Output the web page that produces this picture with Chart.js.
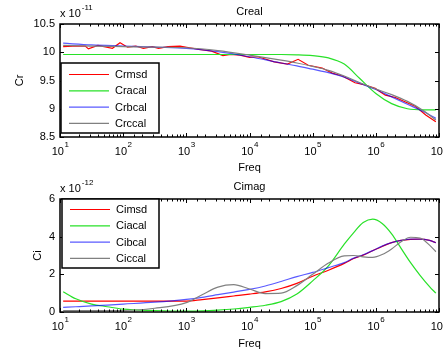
<!DOCTYPE html>
<html lang="en">
<head>
<meta charset="UTF-8">
<title>Creal / Cimag</title>
<script src="https://cdn.jsdelivr.net/npm/chart.js@4.4.1/dist/chart.umd.min.js"></script>
<style>
  body { margin: 0; background: #fff; }
  canvas { position: absolute; left: 0; }
</style>
</head>
<body>
<canvas id="real" width="443" height="175" style="top:0"></canvas>
<canvas id="imag" width="443" height="176" style="top:175px"></canvas>
<script>
// frequencies are stored as powers of ten (Freq = 10^exp)
const realExpRed = [1.05,1.2,1.4,1.45,1.6,1.83,1.95,2.07,2.2,2.32,2.46,2.56,2.71,2.9,3.05,3.2,3.4,3.58,3.7,3.85,
                    4.0,4.13,4.25,4.39,4.6,4.77,4.93,5.15,5.31,5.47,5.67,5.83,5.99,6.15,6.31,6.47,6.63,6.79,6.95];
const realRed = [10.10,10.11,10.11,10.06,10.12,10.07,10.17,10.09,10.11,10.07,10.10,10.07,10.10,10.11,10.08,10.05,10.02,9.94,9.96,9.95,
                 9.91,9.92,9.88,9.83,9.79,9.875,9.77,9.72,9.63,9.58,9.46,9.42,9.36,9.24,9.20,9.12,9.04,8.89,8.77];

const realExp = [1.05,1.5,2,2.5,3,3.5,4,4.5,4.75,5,5.25,5.5,5.75,6,6.25,6.5,6.75,6.95];
const realGreen = [9.96,9.96,9.96,9.96,9.96,9.96,9.96,9.96,9.955,9.94,9.90,9.79,9.53,9.27,9.09,9.00,8.98,8.98];
const realBlue = [10.16,10.13,10.11,10.09,10.07,10.01,9.92,9.81,9.76,9.70,9.64,9.56,9.45,9.34,9.21,9.08,8.95,8.83];
const realGray = [10.12,10.11,10.10,10.09,10.08,10.03,9.95,9.86,9.81,9.75,9.68,9.58,9.46,9.35,9.25,9.13,8.97,8.80];

const imagExp = [1.05,1.25,1.5,1.75,2,2.5,3,3.25,3.5,3.75,4,4.25,4.5,4.75,5,5.25,5.5,5.65,5.8,5.95,6.1,6.25,6.4,6.55,6.7,6.85,6.95];
const imagRed = [0.58,0.58,0.58,0.58,0.58,0.58,0.58,0.66,0.75,0.85,0.95,1.07,1.25,1.52,1.9,2.22,2.58,2.84,3.02,3.25,3.48,3.68,3.80,3.86,3.87,3.80,3.68];
const imagGreen = [1.08,0.7,0.42,0.28,0.15,0.08,0.05,0.06,0.1,0.16,0.25,0.36,0.55,0.95,1.65,2.45,3.6,4.22,4.75,4.93,4.7,4.15,3.38,2.62,1.95,1.35,1.0];
const imagBlue = [0.25,0.28,0.32,0.37,0.42,0.52,0.67,0.78,0.92,1.06,1.2,1.38,1.62,1.88,2.1,2.36,2.62,2.86,3.04,3.26,3.5,3.68,3.8,3.87,3.87,3.8,3.68];
const imagGray = [0.08,0.08,0.08,0.08,0.08,0.2,0.5,0.92,1.32,1.45,1.22,0.98,1.0,1.4,2.0,2.6,2.98,3.0,2.93,2.9,3.05,3.35,3.73,3.97,3.93,3.55,3.2];

const realLabels = ['Crmsd', 'Cracal', 'Crbcal', 'Crccal'];
const imagLabels = ['Cimsd', 'Ciacal', 'Cibcal', 'Ciccal'];

const FONT = "'Liberation Sans', Arial, Helvetica, sans-serif";
const colors = ['#ff0000', 'rgb(40,225,40)', 'rgba(0,0,255,0.65)', 'rgb(128,128,128)'];

function pts(exps, vals) {
    return exps.map((e, i) => ({ x: Math.pow(10, e), y: vals[i] }));
}

function isDecade(v) {
    const l = Math.log10(v);
    return Math.abs(l - Math.round(l)) < 1e-9;
}

// MATLAB-like box, inward ticks, 10^n labels, exponent note and legend
const matlabAxes = {
    id: 'matlabAxes',
    afterDraw(chart, args, opts) {
        const { ctx, chartArea: a, scales: { x, y } } = chart;
        ctx.save();
        ctx.strokeStyle = '#000';
        ctx.lineWidth = 1;
        ctx.beginPath();
        x.ticks.forEach(t => {
            const px = Math.round(x.getPixelForValue(t.value)) + 0.5;
            const len = isDecade(t.value) ? 4 : 2.5;
            ctx.moveTo(px, a.bottom); ctx.lineTo(px, a.bottom - len);
            ctx.moveTo(px, a.top); ctx.lineTo(px, a.top + len);
        });
        y.ticks.forEach(t => {
            const py = Math.round(y.getPixelForValue(t.value)) + 0.5;
            ctx.moveTo(a.left, py); ctx.lineTo(a.left + 4, py);
            ctx.moveTo(a.right, py); ctx.lineTo(a.right - 4, py);
        });
        ctx.stroke();

        ctx.lineWidth = 1.5;
        ctx.strokeRect(a.left, a.top, a.right - a.left, a.bottom - a.top);

        // x tick labels 10^n
        ctx.fillStyle = '#000';
        ctx.textBaseline = 'middle';
        ctx.textAlign = 'left';
        x.ticks.forEach(t => {
            if (!isDecade(t.value)) return;
            const px = x.getPixelForValue(t.value);
            const e = String(Math.round(Math.log10(t.value)));
            ctx.font = '11px ' + FONT;
            const w1 = ctx.measureText('10').width;
            ctx.font = '8px ' + FONT;
            const w2 = ctx.measureText(e).width;
            const x0 = px - (w1 + w2) / 2;
            ctx.font = '11px ' + FONT;
            ctx.fillText('10', x0, a.bottom + 15);
            ctx.font = '8px ' + FONT;
            ctx.fillText(e, x0 + w1 + 0.5, a.bottom + 7.5);
        });

        // y exponent note
        ctx.font = '11px ' + FONT;
        ctx.fillText('x 10', a.left, a.top - 10);
        const wn = ctx.measureText('x 10').width;
        ctx.font = '8px ' + FONT;
        ctx.fillText(opts.exponent, a.left + wn + 1, a.top - 16.5);

        // legend inside the axes
        const L = opts.legend;
        const bx = a.left + L.dx, by = a.top + L.dy;
        ctx.fillStyle = '#fff';
        ctx.fillRect(bx, by, L.w, L.h);
        ctx.strokeStyle = '#000';
        ctx.lineWidth = 1.5;
        ctx.strokeRect(bx, by, L.w, L.h);
        chart.data.datasets.forEach((ds, i) => {
            const ry = by + L.first + i * 16.3;
            ctx.strokeStyle = ds.borderColor;
            ctx.lineWidth = ds.borderWidth;
            ctx.beginPath();
            ctx.moveTo(bx + 8, ry);
            ctx.lineTo(bx + 48, ry);
            ctx.stroke();
            ctx.fillStyle = '#000';
            ctx.font = '11px ' + FONT;
            ctx.fillText(ds.label, bx + 54, ry + 0.5);
        });
        ctx.restore();
    }
};

function makeChart(id, title, yTitle, yTitlePad, labels, series, yMin, yMax, step, exponent, legend, xHeight) {
    const datasets = series.map((s, i) => ({
        label: labels[i],
        data: s.data,
        borderColor: colors[i],
        borderWidth: 1.2,
        pointRadius: 0,
        fill: false,
        tension: s.smooth ? 0.4 : 0,
        cubicInterpolationMode: s.smooth ? 'monotone' : 'default',
        order: 4 - i
    }));
    return new Chart(document.getElementById(id), {
        type: 'line',
        data: { datasets },
        options: {
            responsive: false,
            animation: false,
            events: [],
            layout: { padding: { left: 0, right: 4, top: 0, bottom: 0 } },
            plugins: {
                legend: { display: false },
                tooltip: { enabled: false },
                title: {
                    display: true, text: title, fullSize: false, color: '#000',
                    font: { family: FONT, size: 11, weight: 'normal' },
                    padding: { top: 5, bottom: 5.8 }
                },
                matlabAxes: { exponent, legend }
            },
            scales: {
                x: {
                    type: 'logarithmic', min: 10, max: 1e7,
                    grid: { display: false, drawTicks: false },
                    border: { display: false },
                    ticks: { display: false },
                    title: {
                        display: true, text: 'Freq', color: '#000',
                        font: { family: FONT, size: 11 }, padding: { top: 0, bottom: 0.5 }
                    },
                    afterFit(scale) { scale.height = xHeight; }
                },
                y: {
                    min: yMin, max: yMax,
                    grid: { display: false, drawTicks: false },
                    border: { display: false },
                    ticks: {
                        stepSize: step, padding: 5, color: '#000',
                        font: { family: FONT, size: 11 },
                        callback: v => String(Math.round(v * 10) / 10)
                    },
                    title: {
                        display: true, text: yTitle, color: '#000',
                        font: { family: FONT, size: 11 }, padding: { top: yTitlePad, bottom: 0 }
                    },
                    afterFit(scale) { scale.width = 60; }
                }
            }
        },
        plugins: [matlabAxes]
    });
}

makeChart('real', 'Creal', 'Cr', 13.4, realLabels, [
    { data: pts(realExpRed, realRed), smooth: false },
    { data: pts(realExp, realGreen), smooth: true },
    { data: pts(realExp, realBlue), smooth: true },
    { data: pts(realExp, realGray), smooth: true }
], 8.5, 10.5, 0.5, '-11', { dx: 1, dy: 39, w: 98, h: 70, first: 11.5 }, 38);

makeChart('imag', 'Cimag', 'Ci', 31.4, imagLabels, [
    { data: pts(imagExp, imagRed), smooth: true },
    { data: pts(imagExp, imagGreen), smooth: true },
    { data: pts(imagExp, imagBlue), smooth: true },
    { data: pts(imagExp, imagGray), smooth: true }
], 0, 6, 2, '-12', { dx: 2, dy: 0, w: 97, h: 69, first: 10.5 }, 39);
</script>
</body>
</html>
